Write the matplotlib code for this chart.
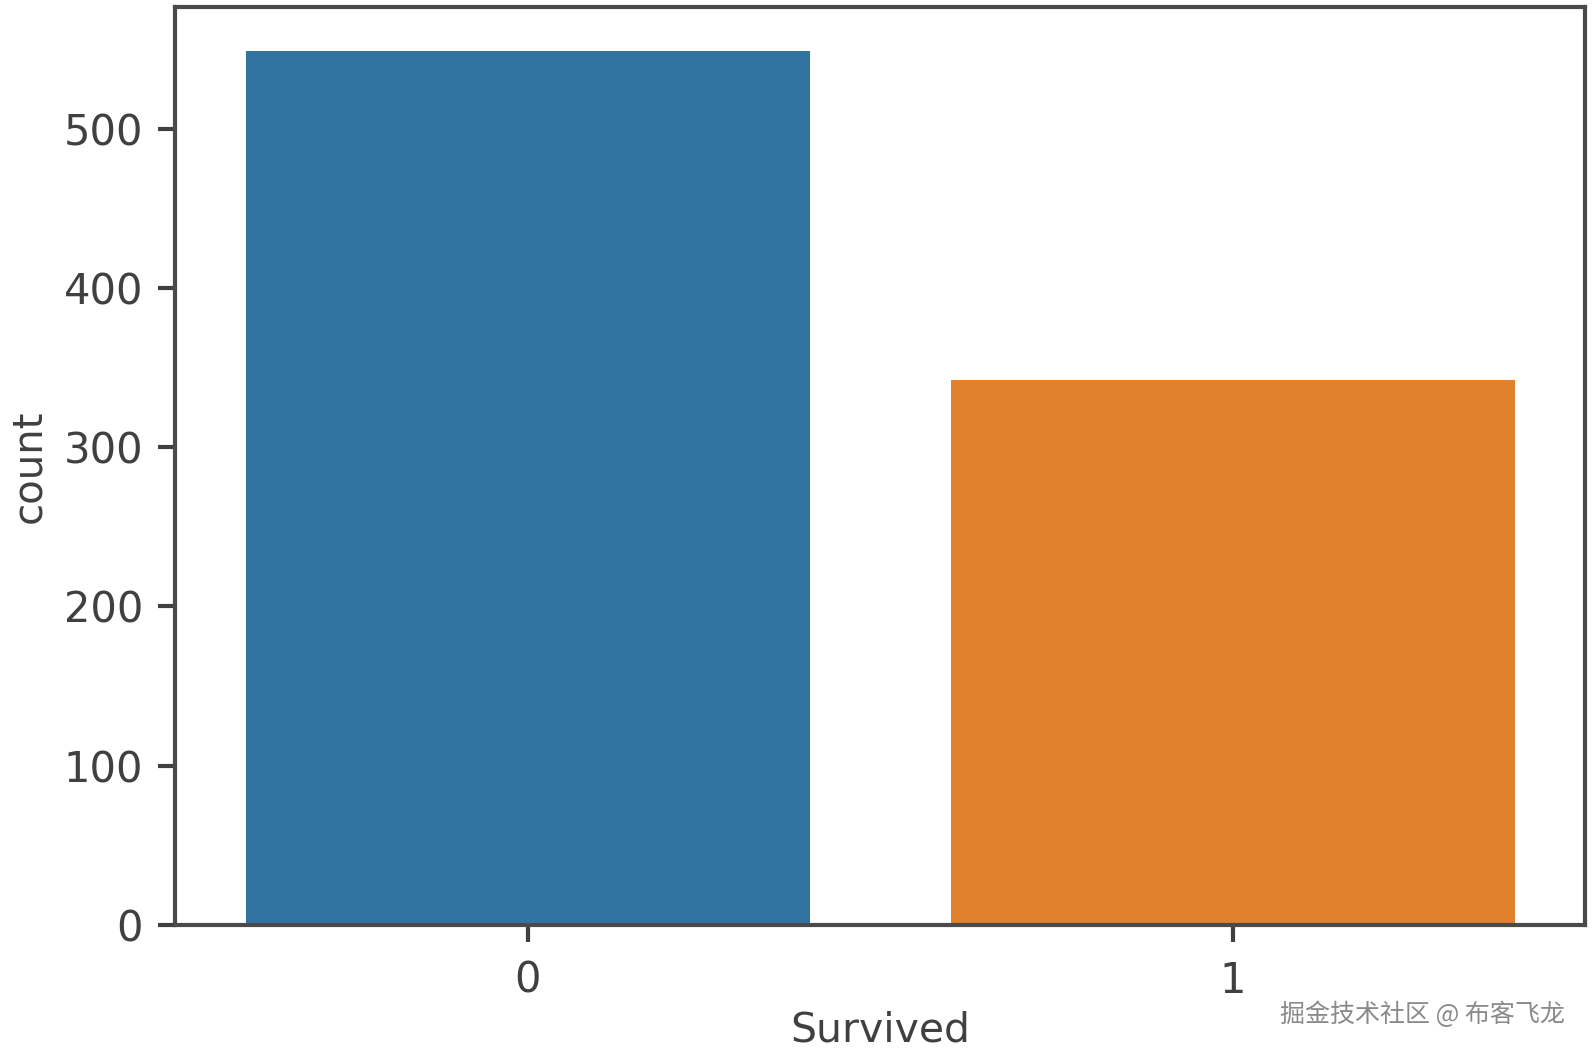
import numpy as np
import matplotlib
matplotlib.use("Agg")
import matplotlib.pyplot as plt

# Titanic survival counts
categories = ["0", "1"]
counts = [549, 342]
colors = ["#3274a1", "#e1812c"]

text_color = "#404040"

fig = plt.figure(figsize=(15.94, 10.54), dpi=100)
ax = fig.add_axes([0.1098, 0.1224, 0.8846, 0.871])

x = np.arange(len(categories))
ax.bar(x, counts, width=0.8, color=colors)

ax.set_xlim(-0.5, 1.5)
ax.set_ylim(0, max(counts) * 1.05)
ax.set_xticks(x)
ax.set_xticklabels(categories)
ax.set_yticks([0, 100, 200, 300, 400, 500])

ax.set_xlabel("Survived", fontsize=29.5, color=text_color, labelpad=6)
ax.set_ylabel("count", fontsize=29, color=text_color, labelpad=10)
ax.tick_params(axis="both", labelsize=30, colors=text_color, length=12, width=3)
ax.tick_params(axis="y", pad=11)
ax.tick_params(axis="x", pad=13)
for s in ax.spines.values():
    s.set_color("#4a4a4a")
    s.set_linewidth(3)

# watermark
fig.text(0.982, 0.037, "掘金技术社区 @ 布客飞龙", ha="right", va="center",
         fontsize=18, color="#8a8a8a",
         family=["Noto Sans CJK SC", "DejaVu Sans"])

fig.savefig("out.png", dpi=100)
